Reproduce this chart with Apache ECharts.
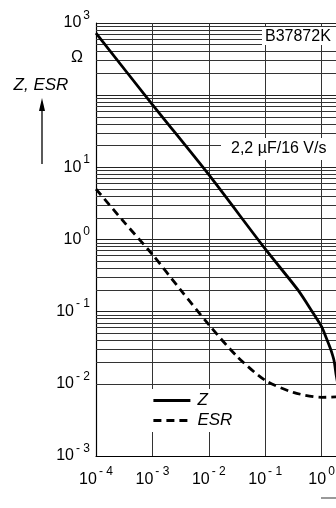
<!DOCTYPE html>
<html><head><meta charset="utf-8">
<script src="https://cdn.jsdelivr.net/npm/echarts@6/dist/echarts.min.js"></script>
<style>html,body{margin:0;padding:0;background:#fff;overflow:hidden}#c{width:336px;height:508px}</style>
</head><body><div id="c"></div>
<script>
// ---- data (frequency in MHz, values in Ω) ----
const zFreq = [1e-4, 1e-3, 1e-2, 0.1, 0.38, 0.71, 1.0, 1.2, 1.45, 1.66, 1.82, 2.0, 2.29, 2.8];
const zValues = [724, 74, 7.9, 0.74, 0.20, 0.095, 0.062, 0.044, 0.030, 0.021, 0.013, 0.0089, 0.0066, 0.0063];
const esrFreq = [1e-4, 3.16e-4, 1e-3, 3.16e-3, 1e-2, 3.16e-2, 0.1, 0.316, 1.0, 2.0, 3.16];
const esrValues = [5.0, 1.74, 0.62, 0.20, 0.066, 0.024, 0.0112, 0.0076, 0.0065, 0.0066, 0.0068];
const xTickExps = [-4, -3, -2, -1, 0, 1];
const yTickExps = [-3, -2, -1, 0, 1, 3]; // 10^2 label is left out in the reference
const minorMultipliers = [2, 3, 4, 5, 6, 7, 8, 9];
const minorDecades = [-3, -2, -1, 0, 1, 2];
const seriesNames = ['Z', 'ESR'];
const partNumber = 'B37872K';
const ratingText = '2,2 µF/16 V/s';

const FONT = '"Liberation Sans", Arial, Helvetica, sans-serif';
const minorLines = [];
minorDecades.forEach(d => minorMultipliers.forEach(m => minorLines.push({ yAxis: m * Math.pow(10, d) })));

function expLabel(v, allowed) {
  const e = Math.round(Math.log10(v));
  if (allowed.indexOf(e) < 0) return '';
  return '{b|10}{s|' + (e < 0 ? '- ' + (-e) : e) + '}';
}
const rich = {
  b: { fontSize: 16, fontFamily: FONT, color: '#000' },
  s: { fontSize: 12, fontFamily: FONT, color: '#000', padding: [0, 0, 15, 2] }
};

const chart = echarts.init(document.getElementById('c'), null, { renderer: 'canvas' });
chart.setOption({
  animation: false,
  backgroundColor: '#fff',
  grid: { left: 96, top: 23, height: 433, width: 282, containLabel: false, outerBoundsMode: 'none' },
  xAxis: {
    type: 'log', logBase: 10, min: 1e-4, max: 10, splitNumber: 5,
    axisLine: { lineStyle: { color: '#000', width: 1.2 } },
    axisTick: { show: false },
    axisLabel: { margin: 10, formatter: v => expLabel(v, xTickExps), rich: rich },
    splitLine: { show: true, lineStyle: { color: '#333', width: 1 } }
  },
  yAxis: {
    type: 'log', logBase: 10, min: 1e-3, max: 1e3, splitNumber: 6,
    axisLine: { show: true, lineStyle: { color: '#000', width: 1.2 } },
    axisTick: { show: false },
    axisLabel: { margin: 6, formatter: v => expLabel(v, yTickExps), rich: rich },
    splitLine: { show: true, lineStyle: { color: '#222', width: 1 } }
  },
  legend: {
    left: 145, top: 389, orient: 'vertical', backgroundColor: '#fff',
    padding: [3, 8, 3, 7], itemGap: 3, itemWidth: 37, itemHeight: 16,
    itemStyle: { opacity: 0 },
    lineStyle: { width: 2.8 },
    textStyle: { fontSize: 17, fontStyle: 'italic', fontFamily: FONT, color: '#000', padding: [0, 0, 0, 2] },
    data: seriesNames,
    z: 10
  },
  series: [
    {
      name: seriesNames[0], type: 'line', data: zFreq.map((f, i) => [f, zValues[i]]),
      showSymbol: false, symbol: 'none', smooth: 0.25,
      lineStyle: { color: '#000', width: 2.8 }, itemStyle: { color: '#000' }, z: 5,
      markLine: {
        silent: true, symbol: 'none', label: { show: false }, animation: false,
        lineStyle: { color: '#333', width: 1, type: 'solid' }, data: minorLines, z: 1
      }
    },
    {
      name: seriesNames[1], type: 'line', data: esrFreq.map((f, i) => [f, esrValues[i]]),
      showSymbol: false, symbol: 'none', smooth: 0.25,
      lineStyle: { color: '#000', width: 2.8, type: [8, 5] }, itemStyle: { color: '#000' }, z: 5
    }
  ],
  graphic: [
    { type: 'rect', shape: { x: 262, y: 27, width: 80, height: 18 }, style: { fill: '#fff' }, z: 20 },
    { type: 'text', x: 265, y: 37, style: { text: partNumber, font: '16px ' + FONT, fill: '#000', textVerticalAlign: 'middle' }, z: 21 },
    { type: 'rect', shape: { x: 221, y: 138, width: 120, height: 22 }, style: { fill: '#fff' }, z: 20 },
    { type: 'text', x: 231, y: 149, style: { text: ratingText, font: '16px ' + FONT, fill: '#000', textVerticalAlign: 'middle' }, z: 21 },
    { type: 'text', x: 83, y: 58, style: { text: 'Ω', font: '16px ' + FONT, fill: '#000', textAlign: 'right', textVerticalAlign: 'middle' }, z: 21 },
    { type: 'text', x: 41, y: 85, style: { text: 'Z, ESR', font: 'italic 17px ' + FONT, fill: '#000', textAlign: 'center', textVerticalAlign: 'middle' }, z: 21 },
    { type: 'line', shape: { x1: 42, y1: 108, x2: 42, y2: 164 }, style: { stroke: '#000', lineWidth: 1.3 }, z: 21 },
    { type: 'polygon', shape: { points: [[42, 98], [39, 111], [45, 111]] }, style: { fill: '#000' }, z: 21 },
    { type: 'line', shape: { x1: 321, y1: 498, x2: 340, y2: 498 }, style: { stroke: '#777', lineWidth: 1.5 }, z: 21 }
  ]
});
</script></body></html>
